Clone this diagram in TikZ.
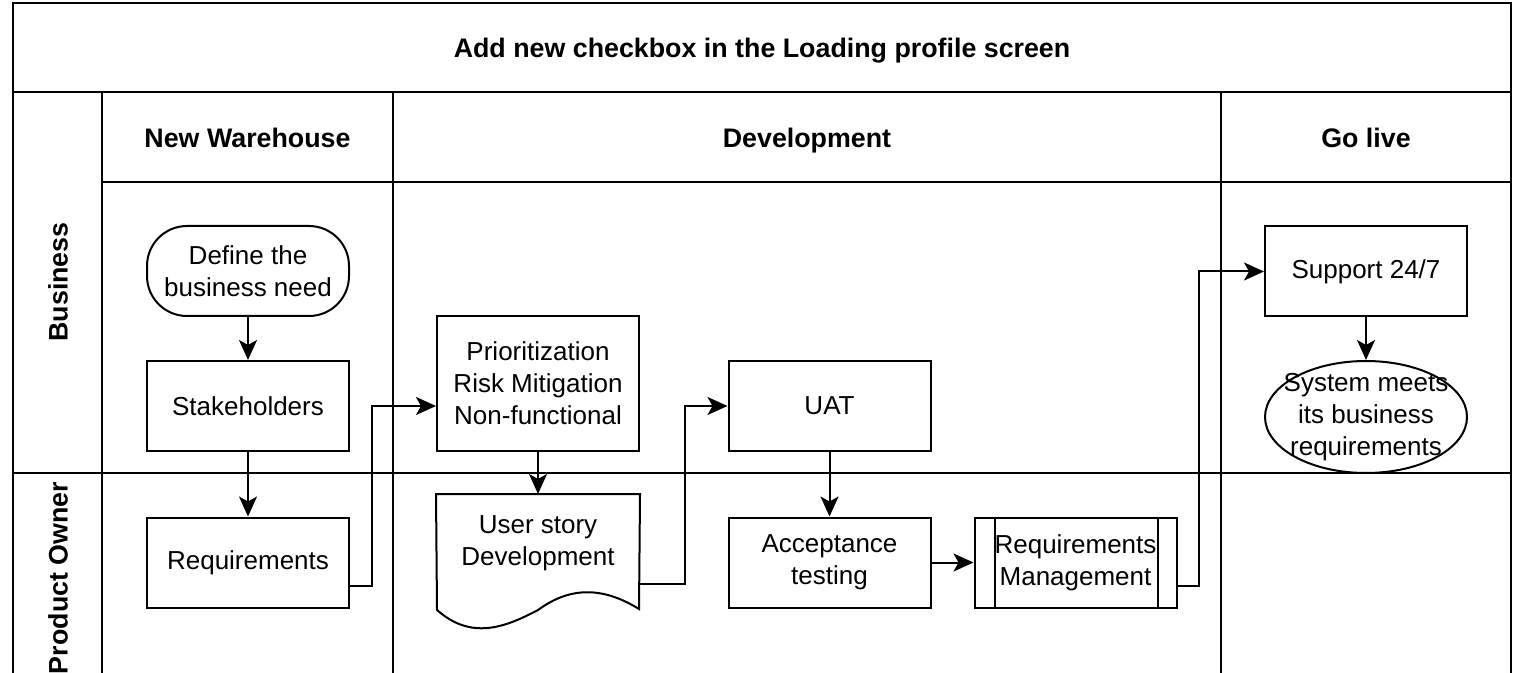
\documentclass[tikz,border=0pt]{standalone}
\usepackage{fontspec}
\setmainfont{Liberation Sans}
\usepackage{tikz}
\usetikzlibrary{arrows.meta,shapes}
\tikzstyle{every node}=[font=\fontsize{13}{16}\selectfont]
\tikzstyle{process}=[rectangle, draw
,line width=1pt
,minimum width=101pt
,minimum height=45pt
,inner sep=0pt
,align=center
]
\tikzstyle{terminal} = [process, rounded corners=20pt]
\tikzstyle{tall process} = [process, minimum height=67.5pt]
\tikzstyle{doc box} = [process, draw=none, minimum height=48pt]
\tikzstyle{end box} = [process, draw=none, minimum height=56pt]
\tikzstyle{lane} = [line width=1pt]
\tikzstyle{header} = [font=\fontsize{13.4}{16}\selectfont\bfseries, text height=9.6pt, text depth=0pt]
\tikzstyle{edge} = [draw,line width=1pt,-{Stealth[length=10pt,width=9pt,inset=2.5pt]}]

\begin{document}
\begin{tikzpicture}[x=0.5pt,y=-0.5pt]
    \useasboundingbox (0,0) rectangle (1524,673);
    \clip (0,0) rectangle (1524,673);
    % Draw the pool and its lanes
    \draw[lane] (13,700) -- (13,3) -- (1511,3) -- (1511,700);
    \draw[lane] (13,92) -- (1511,92);
    \draw[lane] (102,182) -- (1511,182);
    \draw[lane] (13,473) -- (1511,473);
    \foreach \x in {102,393,1221}
        \draw[lane] (\x,92) -- (\x,700);

    % Headers
    \node[header] (title) at (762,48) {Add new checkbox in the Loading profile screen};
    \foreach \pos/\name/\txt in {{(247.5,138)/warehouse/New Warehouse}, {(807,138)/devel/Development}, {(1366,138)/golive/Go live}}
        \node[header] (\name) at \pos {\txt};
    \node[header, rotate=90] (business) at (58,282) {Business};
    \node[header, rotate=90] (owner) at (58,578) {Product Owner};

    % First we draw the steps
    \node[terminal] (need) at (248,271) {Define the\\business need};
    \foreach \pos/\name/\txt in {{(248,406)/stake/Stakeholders}, {(248,562.5)/req/Requirements}, {(829.5,406)/uat/UAT}, {(829.5,562.5)/acc/{Acceptance\\testing}}, {(1075.5,562.5)/mgmt/{Requirements\\Management}}}
        \node[process] (\name) at \pos {\txt};
    \node[process] (support) at (1366,271.5) {Support 24/7};
    \node[tall process] (prio) at (538,383.5) {Prioritization\\Risk Mitigation\\Non-functional};
    \node[doc box] (story) at (538,543) {User story\\Development};
    \node[end box] (sys) at (1366,417) {System meets\\its business\\requirements};

    % Shapes that need more than a box
    \draw[line width=1pt] (story.north west) -- (story.north east) -- (639,609)
        .. controls (605,588) and (572,585) .. (538,610)
        .. controls (504,628) and (471,640) .. (437,610) -- cycle;
    \draw[line width=1pt] ([xshift=10.5pt]mgmt.north west) -- ([xshift=10.5pt]mgmt.south west);
    \draw[line width=1pt] ([xshift=-10pt]mgmt.north east) -- ([xshift=-10pt]mgmt.south east);
    \draw[line width=1pt] (sys.center) ellipse [x radius=50.5pt, y radius=28pt];

    % Connect steps with edges
    \foreach \source/ \dest in {need/stake, stake/req, prio/story, uat/acc, acc/mgmt, support/sys}
        \path[edge] (\source) -- (\dest) ;
    \path[edge] ([yshift=-11.5pt]req.east) -- ++(22,0) |- ([yshift=-11.25pt]prio.west);
    \path[edge] ([yshift=-20.5pt]story.east) -- ++(45,0) |- (uat.west);
    \path[edge] ([yshift=-11.5pt]mgmt.east) -- ++(21,0) |- (support.west);
\end{tikzpicture}
\end{document}
